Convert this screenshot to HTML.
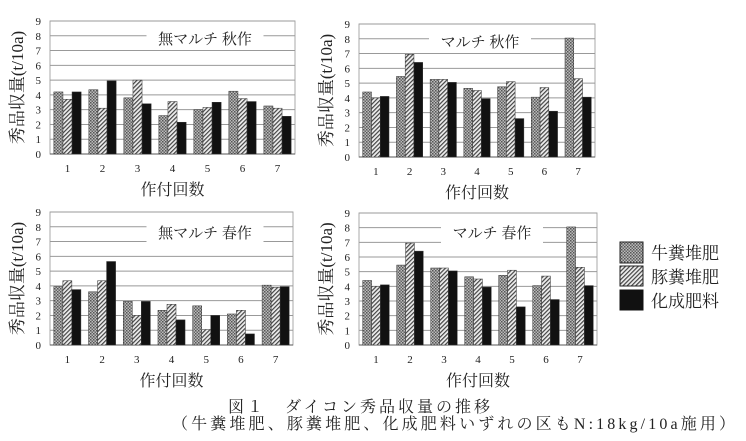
<!DOCTYPE html>
<html><head><meta charset="utf-8"><style>
body{margin:0;background:#fff;}
svg{display:block;}
text{font-family:"Liberation Serif","Noto Serif CJK SC","Noto Sans CJK JP",serif;fill:#222;}
</style></head><body>
<svg id="s" width="746" height="441" xmlns="http://www.w3.org/2000/svg">
<defs>
<pattern id="p1" width="3" height="3" patternUnits="userSpaceOnUse"><rect width="3" height="3" fill="#bbb"/><rect width="1.5" height="1.5" fill="#555"/><rect x="1.5" y="1.5" width="1.5" height="1.5" fill="#666"/></pattern>
<pattern id="p2" width="3" height="3" patternUnits="userSpaceOnUse" patternTransform="rotate(45)"><rect width="3" height="3" fill="#eee"/><rect width="1.2" height="3" fill="#444"/></pattern>
</defs>
<g id="g"></g>
<rect x="620" y="242" width="23" height="21" fill="url(#p1)" stroke="#222"/>
<rect x="620" y="266" width="23" height="20" fill="url(#p2)" stroke="#222"/>
<rect x="620" y="290" width="23" height="20" fill="#111" stroke="#111"/>
<text x="651" y="259" font-size="17">牛糞堆肥</text>
<text x="651" y="283" font-size="17">豚糞堆肥</text>
<text x="651" y="307" font-size="17">化成肥料</text>
<text x="228" y="412" font-size="16" textLength="262" lengthAdjust="spacing">図１　ダイコン秀品収量の推移</text>
<text x="172" y="429" font-size="16" textLength="563" lengthAdjust="spacing">（牛糞堆肥、豚糞堆肥、化成肥料いずれの区もN:18kg/10a施用）</text>
</svg>
<script>
const A=[[4.2,3.7,4.2],[4.35,3.1,4.95],[3.8,5.0,3.4],[2.6,3.55,2.15],[3.0,3.15,3.5],[4.25,3.75,3.55],[3.25,3.1,2.55]];
const B=[[4.4,4.0,4.1],[5.45,6.95,6.4],[5.25,5.25,5.05],[4.65,4.5,3.95],[4.75,5.1,2.6],[4.05,4.7,3.1],[8.05,5.3,4.05]];
const C=[[3.95,4.35,3.75],[3.6,4.35,5.65],[2.95,2.0,2.95],[2.35,2.75,1.7],[2.65,1.05,2.0],[2.1,2.35,0.75],[4.05,3.9,3.95]];
const charts=[
{x0:50,x1:295,y9:21,y0:154,d:A,t:"無マルチ 秋作",tx:205,ty:44},
{x0:359,x1:595,y9:24,y0:157,d:B,t:"マルチ 秋作",tx:480,ty:47},
{x0:50,x1:293,y9:212,y0:345,d:C,t:"無マルチ 春作",tx:205,ty:238},
{x0:359,x1:597,y9:213,y0:345,d:B,t:"マルチ 春作",tx:492,ty:238}];
let h="";
const fills=["url(#p1)","url(#p2)","#111"];
for(const c of charts){
 const W=c.x1-c.x0,H=c.y0-c.y9,gw=W/7,bw=gw*0.26;
 h+=`<rect x="${c.x0}" y="${c.y9}" width="${W}" height="${H}" fill="none" stroke="#aaa"/>`;
 for(let i=0;i<=9;i++){const y=c.y0-H*i/9;
  h+=`<line x1="${c.x0}" x2="${c.x1}" y1="${y}" y2="${y}" stroke="#999" stroke-width="1"/>`;
  h+=`<text x="${c.x0-9}" y="${y+4}" font-size="11" text-anchor="end">${i}</text>`;}
 h+=`<line x1="${c.x0}" x2="${c.x1}" y1="${c.y0}" y2="${c.y0}" stroke="#555"/>`;
 const tw=c.t.length*15;
 h+=`<rect x="${c.tx-tw/2-6}" y="${c.ty-15}" width="${tw+12}" height="20" fill="#fff"/>`;
 h+=`<text x="${c.tx}" y="${c.ty}" font-size="15" text-anchor="middle">${c.t}</text>`;
 c.d.forEach((g,i)=>{const gx=c.x0+gw*i+(gw-3*bw)/2;
  g.forEach((v,j)=>{const bh=H*v/9;h+=`<rect x="${gx+j*bw}" y="${c.y0-bh}" width="${bw}" height="${bh}" fill="${fills[j]}" stroke="#333" stroke-width="0.5"/>`;});
  h+=`<text x="${c.x0+gw*(i+0.5)}" y="${c.y0+18}" font-size="11" text-anchor="middle">${i+1}</text>`;});
 const cy=(c.y9+c.y0)/2;
 h+=`<text transform="translate(${c.x0-27},${cy}) rotate(-90)" font-size="17" text-anchor="middle">秀品収量(t/10a)</text>`;
 h+=`<text x="${(c.x0+c.x1)/2}" y="${c.y0+41}" font-size="16" text-anchor="middle">作付回数</text>`;
}
document.getElementById("g").innerHTML=h;
</script>
</body></html>
